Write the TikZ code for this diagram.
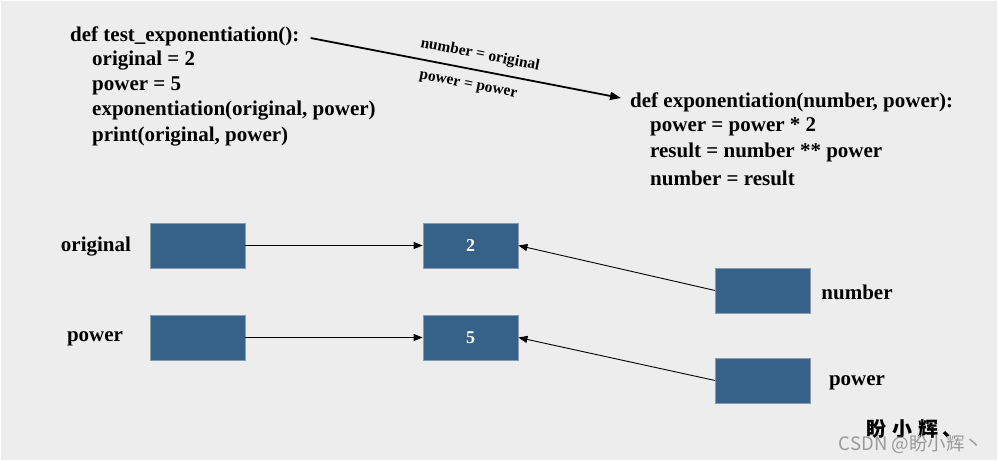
\documentclass[tikz,border=0pt]{standalone}
\usepackage{fontspec}
\setmainfont{Liberation Serif}
\newfontfamily\cjk{Noto Sans CJK SC}
\usetikzlibrary{arrows.meta}
\definecolor{bg}{HTML}{EDEDED}
\definecolor{boxfill}{HTML}{366189}
\definecolor{boxedge}{HTML}{8A9BB0}
\definecolor{wm}{HTML}{9A9A9A}
\begin{document}
\begin{tikzpicture}[x=1pt,y=-1pt,
  code/.style={anchor=west,inner sep=0pt,font=\fontsize{21}{24}\selectfont\bfseries},
  lbl/.style={inner sep=0pt,font=\fontsize{21}{24}\selectfont\bfseries},
  small/.style={inner sep=0pt,font=\fontsize{15.5}{17}\selectfont\bfseries,rotate=-11},
  vbox/.style={draw=boxedge,fill=boxfill,line width=0.8pt,minimum width=95pt,minimum height=45pt,inner sep=0pt,text=white,font=\fontsize{18}{20}\selectfont\bfseries},
  conn/.style={draw=black,line width=0.9pt,-{Triangle[length=9pt,width=7pt]}}]
\useasboundingbox (0,0) rectangle (998,461);
\fill[white] (0,0) rectangle (998,461);
\fill[bg] (1,1) rectangle (997,460);
% code blocks
\node[code] (l1) at (70,36) {def test\_exponentiation():};
\node[code] (l2) at (92,61) {original = 2};
\node[code] (l3) at (92,86) {power = 5};
\node[code] (l4) at (92,111) {exponentiation(original, power)};
\node[code] (l5) at (92,137) {print(original, power)};
\node[code] (r1) at (630,102) {def exponentiation(number, power):};
\node[code] (r2) at (650,127) {power = power * 2};
\node[code] (r3) at (650,152) {result = number ** power};
\node[code] (r4) at (650,178) {number = result};
\draw[line width=1.8pt,-{Triangle[length=11pt,width=8pt]}] ([xshift=11pt,yshift=-2pt]l1.east) -- ([xshift=-9pt,yshift=4pt]r1.west);
\node[small] (a1) at (480,55) {number = original};
\node[small] (a2) at (468,86) {power = power};
% boxes
\node[vbox] (o) at (197.5,245.5) {};
\node[vbox] (v2) at (470.5,245.5) {2};
\node[vbox] (p) at (197.5,337.5) {};
\node[vbox] (v5) at (470.5,337.5) {5};
\node[vbox] (n) at (763,290.5) {};
\node[vbox] (q) at (763,380.5) {};
\node[lbl] (lo) at (96,247) {original};
\node[lbl] (lp) at (95,339) {power};
\node[lbl] (ln) at (857,292) {number};
\node[lbl] (lq) at (857,383) {power};
\draw[conn] (o) -- (v2);
\draw[conn] (p) -- (v5);
\draw[conn] (n.west) -- (v2.east);
\draw[conn] (q.west) -- (v5.east);
% watermark
\node[inner sep=0pt,font=\cjk\fontsize{20}{22}\selectfont\bfseries] (w1) at (914,429) {盼\hspace{6pt}小\hspace{6pt}辉\hspace{4pt}、};
\node[inner sep=0pt,font=\cjk\fontsize{18.5}{20}\selectfont,text=wm] (w2) at (911,444) {CSDN @盼小辉丶};
\end{tikzpicture}
\end{document}
